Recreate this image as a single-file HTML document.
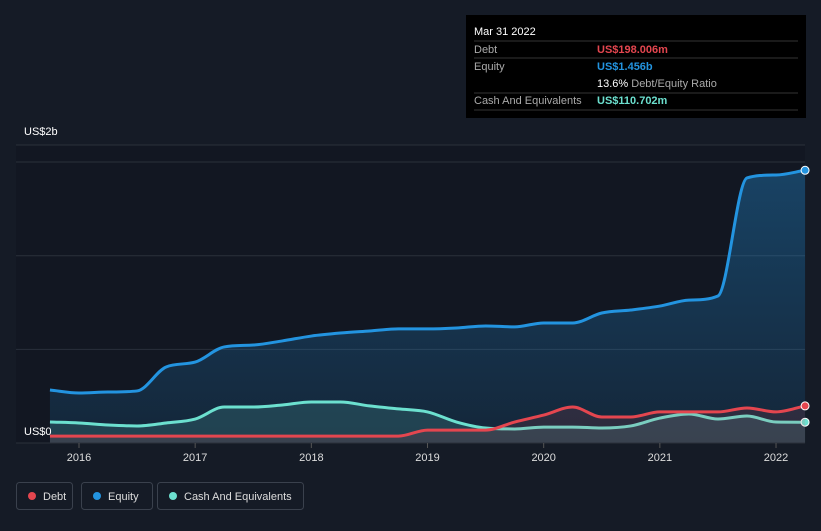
<!DOCTYPE html>
<html><head><meta charset="utf-8"><style>
body{margin:0;background:#151b26;font-family:"Liberation Sans",sans-serif;}
svg text{font-family:"Liberation Sans",sans-serif;}
</style></head><body>
<svg width="821" height="526" viewBox="0 0 821 526">
<rect x="0" y="0" width="821" height="526" fill="#151b26"/>
<rect x="16" y="145" width="789" height="298" fill="#121722"/>
<g id="grid"></g>
<g id="series"></g>
<g id="xaxis"></g>
<text x="24" y="135" fill="#ffffff" font-size="11">US$2b</text>
<text x="24" y="435" fill="#ffffff" font-size="11">US$0</text>
<g>
<rect x="466" y="15" width="340" height="103" fill="#000000"/>
<text x="474" y="35" fill="#fff" font-size="11">Mar 31 2022</text>
<line x1="474" y1="41" x2="798" y2="41" stroke="#333"/>
<text x="474" y="53" fill="#aaa" font-size="11">Debt</text>
<text x="597" y="53" fill="#e4464f" font-size="11" font-weight="bold">US$198.006m</text>
<line x1="474" y1="58" x2="798" y2="58" stroke="#333"/>
<text x="474" y="70" fill="#aaa" font-size="11">Equity</text>
<text x="597" y="70" fill="#2394e0" font-size="11" font-weight="bold">US$1.456b</text>
<text x="597" y="87" fill="#fff" font-size="11">13.6% <tspan fill="#aaa">Debt/Equity Ratio</tspan></text>
<line x1="474" y1="93" x2="798" y2="93" stroke="#333"/>
<text x="474" y="104" fill="#aaa" font-size="11">Cash And Equivalents</text>
<text x="597" y="104" fill="#6ce0cf" font-size="11" font-weight="bold">US$110.702m</text>
<line x1="474" y1="110" x2="798" y2="110" stroke="#333"/>
</g>
<g>
<g><rect x="16.5" y="482.5" width="56" height="27" rx="3" fill="none" stroke="#3a414d"/><circle cx="32" cy="496" r="4" fill="#e4464f"/><text x="43" y="500" fill="#ddd" font-size="11">Debt</text></g>
<g><rect x="81.5" y="482.5" width="71" height="27" rx="3" fill="none" stroke="#3a414d"/><circle cx="97" cy="496" r="4" fill="#2394e0"/><text x="108" y="500" fill="#ddd" font-size="11">Equity</text></g>
<g><rect x="157.5" y="482.5" width="146" height="27" rx="3" fill="none" stroke="#3a414d"/><circle cx="173" cy="496" r="4" fill="#6ce0cf"/><text x="184" y="500" fill="#ddd" font-size="11">Cash And Equivalents</text></g>
</g>
</svg>
<script>
const dates=[2015.75,2016,2016.25,2016.5,2016.75,2017,2017.25,2017.5,2017.75,2018,2018.25,2018.5,2018.75,2019,2019.25,2019.5,2019.75,2020,2020.25,2020.5,2020.75,2021,2021.25,2021.5,2021.75,2022,2022.25];
const equity=[0.283,0.267,0.272,0.278,0.406,0.432,0.513,0.523,0.545,0.571,0.587,0.598,0.609,0.609,0.614,0.625,0.62,0.641,0.641,0.694,0.71,0.731,0.763,0.785,1.415,1.431,1.456];
const cash=[0.112,0.107,0.096,0.091,0.107,0.128,0.192,0.192,0.203,0.219,0.219,0.198,0.182,0.166,0.112,0.08,0.075,0.085,0.085,0.08,0.091,0.133,0.155,0.128,0.144,0.112,0.111];
const debt=[0.037,0.037,0.037,0.037,0.037,0.037,0.037,0.037,0.037,0.037,0.037,0.037,0.037,0.069,0.069,0.069,0.112,0.149,0.192,0.139,0.139,0.166,0.166,0.166,0.187,0.166,0.198];
const xTicks=[2016,2017,2018,2019,2020,2021,2022];
const gridVals=[0.5,1,1.5];
const NS="http://www.w3.org/2000/svg";
const X=t=>79+(t-2016)*116.17;
const Y=v=>443-v*187.3;
function mk(tag,attrs,parent){const e=document.createElementNS(NS,tag);for(const k in attrs)e.setAttribute(k,attrs[k]);parent.appendChild(e);return e;}
const grid=document.getElementById('grid');
mk('line',{x1:16,x2:805,y1:145,y2:145,stroke:'#2a303b'},grid);
gridVals.forEach(v=>{const l=mk('line',{x1:16,x2:805,y1:Y(v),y2:Y(v),stroke:'#2a303b'},grid);

});
const xa=document.getElementById('xaxis');
mk('line',{x1:16,x2:805,y1:443,y2:443,stroke:'#2a303b'},xa);
xTicks.forEach(t=>{mk('line',{x1:X(t),x2:X(t),y1:443,y2:448,stroke:'#555'},xa);
const tx=mk('text',{x:X(t),y:461,fill:'#ddd','font-size':11,'text-anchor':'middle'},xa);tx.textContent=t;

});
function path(vals){const p=vals.map((v,i)=>[X(dates[i]),Y(v)]);const n=p.length;
const d=[];for(let i=0;i<n-1;i++)d.push((p[i+1][1]-p[i][1])/(p[i+1][0]-p[i][0]));
const m=[];for(let i=0;i<n;i++){if(i==0)m.push(d[0]);else if(i==n-1)m.push(d[n-2]);else m.push(d[i-1]*d[i]<=0?0:(d[i-1]+d[i])/2);}
for(let i=0;i<n-1;i++){if(d[i]===0){m[i]=0;m[i+1]=0;continue;}const a=m[i]/d[i],b=m[i+1]/d[i];const s=a*a+b*b;if(s>9){const t=3/Math.sqrt(s);m[i]=t*a*d[i];m[i+1]=t*b*d[i];}}
let s=`M${p[0][0]},${p[0][1]}`;for(let i=0;i<n-1;i++){const h=(p[i+1][0]-p[i][0])/3;
s+=` C${p[i][0]+h},${p[i][1]+m[i]*h} ${p[i+1][0]-h},${p[i+1][1]-m[i+1]*h} ${p[i+1][0]},${p[i+1][1]}`;}return s;}
const g=document.getElementById('series');
const defs=mk('defs',{},g);
const gr=mk('linearGradient',{id:'eg',x1:0,y1:0,x2:0,y2:1},defs);
mk('stop',{offset:0,'stop-color':'#2394e0','stop-opacity':0.35},gr);mk('stop',{offset:1,'stop-color':'#2394e0','stop-opacity':0.12},gr);
const series=[['equity',equity,'#2394e0','url(#eg)'],['cash',cash,'#6ce0cf','rgba(108,224,207,0.15)'],['debt',debt,'#e4464f','rgba(228,70,79,0.12)']];
series.forEach(([name,vals,col,fill])=>{const d=path(vals);
const a=mk('path',{d:d+` L${X(dates[dates.length-1])},443 L${X(dates[0])},443 Z`,fill:fill},g);


const l=mk('path',{d:d,fill:'none',stroke:col,'stroke-width':3},g);


const c=mk('circle',{cx:X(dates[dates.length-1]),cy:Y(vals[vals.length-1]),r:4,fill:col,stroke:'#fff','stroke-width':1},g);

});
</script>
</body></html>
